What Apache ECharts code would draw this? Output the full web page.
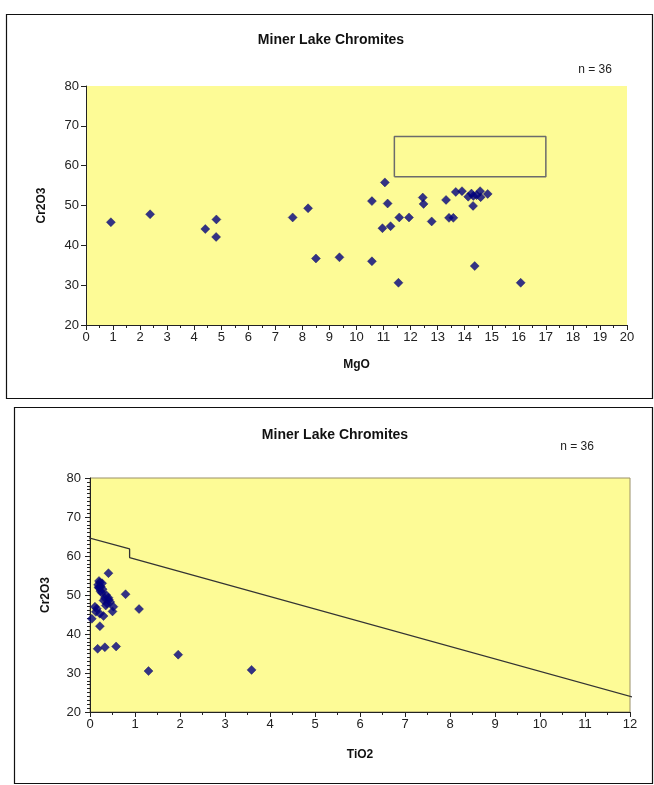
<!DOCTYPE html>
<html>
<head>
<meta charset="utf-8">
<script src="https://cdn.jsdelivr.net/npm/echarts@6/dist/echarts.min.js"></script>
<style>
html,body{margin:0;padding:0;background:#fff;}
#chart{width:654px;height:785px;}
</style>
</head>
<body>
<div id="chart"></div>
<script>
// ---- Data ----
var chartTitle = "Miner Lake Chromites";
var countLabel = "n = 36";
var yName = "Cr2O3";
var xNameTop = "MgO";
var xNameBottom = "TiO2";

// Top chart: MgO vs Cr2O3
var mgo = [0.92, 2.37, 4.41, 4.82, 4.81, 7.64, 8.21, 8.50, 9.37, 10.57, 10.57,
  11.05, 11.15, 12.45, 12.48, 13.31, 13.67, 13.90, 14.13, 14.32, 14.57, 14.59,
  14.85, 14.44, 14.31, 11.58, 11.94, 10.96, 11.26, 12.78, 13.42, 13.58, 11.55,
  14.37, 16.07, 14.25];
var cr2o3Top = [45.8, 47.8, 44.1, 46.5, 42.1, 47.0, 49.3, 36.7, 37.0, 51.1, 36.0,
  55.8, 50.5, 52.0, 50.4, 51.4, 53.4, 53.6, 52.2, 52.4, 53.6, 52.1,
  52.9, 52.6, 49.9, 47.0, 47.0, 44.3, 44.8, 46.0, 46.9, 46.9, 30.6,
  34.8, 30.6, 53.0];

// Field box on top chart (MgO, Cr2O3 corners)
var boxX = [11.4, 17.0, 17.0, 11.4, 11.4];
var boxY = [57.2, 57.2, 67.3, 67.3, 57.2];

// Bottom chart: TiO2 vs Cr2O3
var tio2 = [0.41, 0.20, 0.22, 0.18, 0.24, 0.19, 0.28, 0.23, 0.26, 0.79, 0.36, 0.41,
  0.30, 0.45, 0.11, 0.35, 0.52, 0.38, 1.09, 0.50, 0.13, 0.30, 0.22, 0.04,
  0.22, 0.17, 0.33, 0.58, 1.96, 1.30, 3.59, 0.33, 0.15, 0.27, 0.20, 0.42];
var cr2o3Bottom = [55.6, 53.6, 53.2, 52.6, 52.2, 52.0, 51.5, 51.0, 50.6, 50.2, 50.0, 49.3,
  48.6, 48.2, 47.0, 47.3, 47.0, 47.8, 46.4, 45.8, 45.7, 44.6, 45.2, 43.9,
  42.0, 36.2, 36.6, 36.8, 34.7, 30.5, 30.8, 49.2, 46.5, 53.0, 51.8, 48.8];

// Boundary line on bottom chart
var lineX = [-0.1, 0.88, 0.88, 12.2];
var lineY = [64.9, 61.8, 59.6, 23.4];

function zip(a, b){ return a.map(function(v,i){ return [v, b[i]]; }); }

var font = "'Liberation Sans', Arial, sans-serif";
var tickFont = "'Liberation Sans Narrow', 'Arial Narrow', 'Liberation Sans', Arial, sans-serif";
var axisCol = '#222';

var chart = echarts.init(document.getElementById('chart'), null, {renderer:'canvas'});
chart.setOption({
  animation: false,
  backgroundColor: '#fff',
  textStyle: {fontFamily: font},
  title: [
    {text: chartTitle, left: 326, top: 28, textAlign: 'center',
     textStyle: {fontSize: 14, fontWeight: 'bold', color: '#111', fontFamily: font}},
    {text: countLabel, left: 590, top: 59, textAlign: 'center',
     textStyle: {fontSize: 12, fontWeight: 'normal', color: '#222', fontFamily: tickFont}},
    {text: chartTitle, left: 330, top: 423, textAlign: 'center',
     textStyle: {fontSize: 14, fontWeight: 'bold', color: '#111', fontFamily: font}},
    {text: countLabel, left: 572, top: 436, textAlign: 'center',
     textStyle: {fontSize: 12, fontWeight: 'normal', color: '#222', fontFamily: tickFont}}
  ],
  graphic: [
    {type: 'rect', shape: {x: 6.5, y: 14.5, width: 646, height: 384}, z: -10,
     style: {fill: 'none', stroke: '#111', lineWidth: 1.2}},
    {type: 'rect', shape: {x: 14.5, y: 407.5, width: 638, height: 376}, z: -10,
     style: {fill: 'none', stroke: '#111', lineWidth: 1.2}}
  ],
  grid: [
    {left: 86, top: 86, width: 541, height: 239, show: true,
     backgroundColor: '#FDFB96', borderWidth: 0},
    {left: 90, top: 478, width: 540, height: 234, show: true,
     backgroundColor: '#FDFB96', borderWidth: 1, borderColor: '#9a9068'}
  ],
  xAxis: [
    {gridIndex: 0, type: 'value', min: 0, max: 20, interval: 1,
     name: xNameTop, nameLocation: 'middle', nameGap: 34,
     nameTextStyle: {fontSize: 12, fontWeight: 'bold', color: '#111'},
     axisLine: {onZero: false, lineStyle: {color: axisCol, width: 1}},
     axisTick: {show: true, length: 5, lineStyle: {color: axisCol}},
     minorTick: {show: true, splitNumber: 2, length: 3, lineStyle: {color: axisCol}},
     axisLabel: {fontSize: 13, color: '#222', margin: 6, fontFamily: tickFont},
     splitLine: {show: false}},
    {gridIndex: 1, type: 'value', min: 0, max: 12, interval: 1,
     name: xNameBottom, nameLocation: 'middle', nameGap: 37,
     nameTextStyle: {fontSize: 12, fontWeight: 'bold', color: '#111'},
     axisLine: {onZero: false, lineStyle: {color: axisCol, width: 1}},
     axisTick: {show: true, length: 5, lineStyle: {color: axisCol}},
     minorTick: {show: true, splitNumber: 2, length: 3, lineStyle: {color: axisCol}},
     axisLabel: {fontSize: 13, color: '#222', margin: 6, fontFamily: tickFont},
     splitLine: {show: false}}
  ],
  yAxis: [
    {gridIndex: 0, type: 'value', min: 20, max: 80, interval: 10,
     name: yName, nameLocation: 'middle', nameGap: 38, nameRotate: 90,
     nameTextStyle: {fontSize: 12, fontWeight: 'bold', color: '#111'},
     axisLine: {onZero: false, lineStyle: {color: axisCol, width: 1}},
     axisTick: {show: true, length: 5, lineStyle: {color: axisCol}},
     axisLabel: {fontSize: 13, color: '#222', margin: 7, fontFamily: tickFont},
     splitLine: {show: false}},
    {gridIndex: 1, type: 'value', min: 20, max: 80, interval: 10,
     name: yName, nameLocation: 'middle', nameGap: 38, nameRotate: 90,
     nameTextStyle: {fontSize: 12, fontWeight: 'bold', color: '#111'},
     axisLine: {onZero: false, lineStyle: {color: axisCol, width: 1}},
     axisTick: {show: true, length: 5, lineStyle: {color: axisCol}},
     minorTick: {show: true, splitNumber: 10, length: 3, lineStyle: {color: axisCol}},
     axisLabel: {fontSize: 13, color: '#222', margin: 9, fontFamily: tickFont},
     splitLine: {show: false}}
  ],
  series: [
    {type: 'line', xAxisIndex: 0, yAxisIndex: 0, data: zip(boxX, boxY),
     symbol: 'none', color: '#6b6b6b', lineStyle: {color: '#6b6b6b', width: 1.5}, z: 3, silent: true},
    {type: 'scatter', xAxisIndex: 0, yAxisIndex: 0, data: zip(mgo, cr2o3Top),
     symbol: 'diamond', symbolSize: 9,
     itemStyle: {color: '#000080', borderColor: '#10105e', borderWidth: 0.5}, z: 5},
    {type: 'line', xAxisIndex: 1, yAxisIndex: 1, data: zip(lineX, lineY),
     symbol: 'none', clip: false, color: '#333', lineStyle: {color: '#333', width: 1.3}, z: 3, silent: true},
    {type: 'scatter', xAxisIndex: 1, yAxisIndex: 1, data: zip(tio2, cr2o3Bottom),
     symbol: 'diamond', symbolSize: 9,
     itemStyle: {color: '#000080', borderColor: '#10105e', borderWidth: 0.5}, z: 5}
  ]
});
</script>
</body>
</html>
